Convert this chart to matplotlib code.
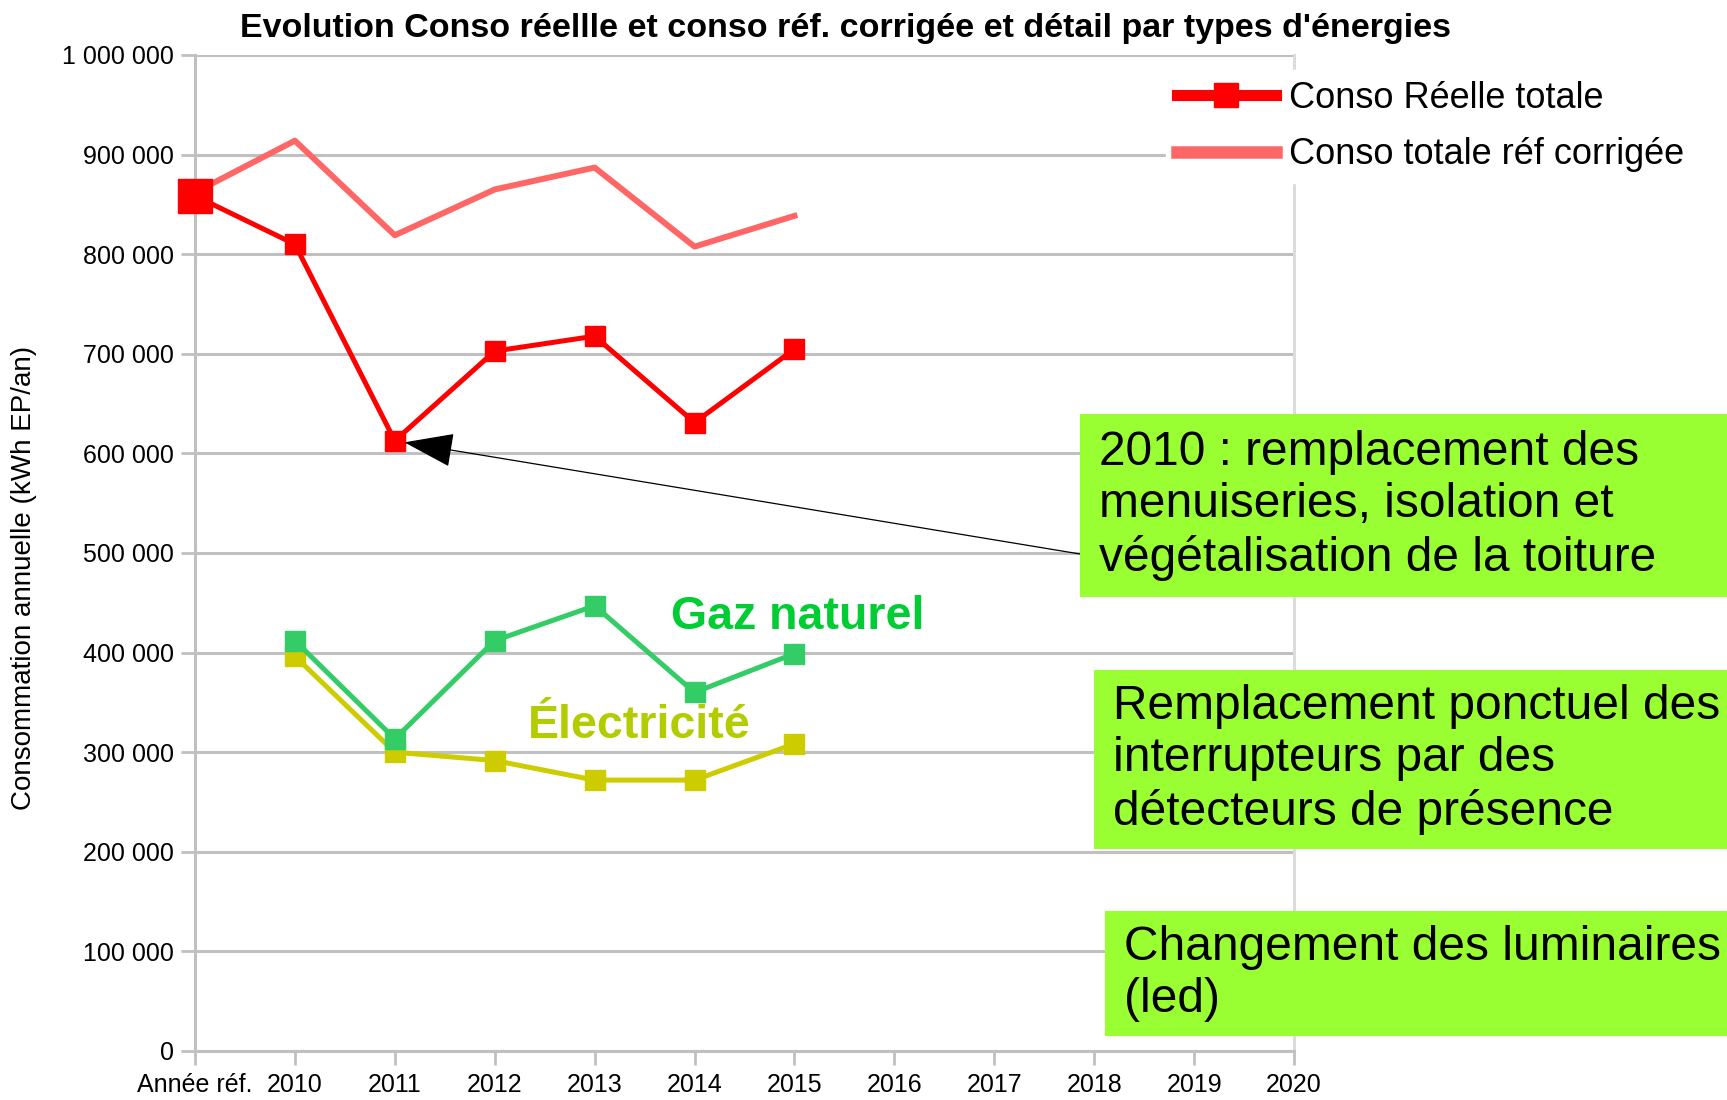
import matplotlib
matplotlib.use('Agg')
import matplotlib.pyplot as plt
from matplotlib.lines import Line2D
from matplotlib.patches import Rectangle

plt.rcParams['font.family'] = ['Liberation Sans', 'DejaVu Sans']

# categories on the x axis
categories = ["Année réf.", "2010", "2011", "2012", "2013", "2014", "2015",
              "2016", "2017", "2018", "2019", "2020"]

# series (kWh EP/an)
x_total = [0, 1, 2, 3, 4, 5, 6]
conso_reelle = [858600, 810000, 612700, 702700, 717700, 631000, 704700]
ref_corrigee = [862000, 914000, 819000, 865000, 887000, 807600, 838500]

x_energies = [1, 2, 3, 4, 5, 6]
gaz_naturel = [412000, 313400, 412000, 447000, 360000, 399000]
electricite = [396300, 300000, 291600, 272000, 272000, 308400]

notes = [
    "2010 : remplacement des\nmenuiseries, isolation et\nvégétalisation de la toiture",
    "Remplacement ponctuel des\ninterrupteurs par des\ndétecteurs de présence",
    "Changement des luminaires\n(led)",
]

W, H = 1727, 1100
fig = plt.figure(figsize=(W / 100, H / 100), dpi=100)
ax = fig.add_axes([195 / W, 1 - 1051 / H, (1294 - 195) / W, (1051 - 55) / H])

grid_c = '#c0c0c0'
ax.set_xlim(0, 11)
ax.set_ylim(0, 1000000)
ax.set_yticks(range(0, 1000001, 100000))
ax.set_yticklabels([f"{v:,}".replace(",", " ") for v in range(0, 1000001, 100000)])
ax.set_xticks(range(len(categories)))
ax.set_xticklabels(categories)
ax.yaxis.grid(True, color=grid_c, lw=2.2)
ax.set_axisbelow(True)
ax.tick_params(axis='both', labelsize=18, colors=grid_c, labelcolor='black',
               length=10, width=2)
ax.tick_params(axis='y', pad=5)
ax.tick_params(axis='x', pad=6)
for s in ['left', 'bottom']:
    ax.spines[s].set_color(grid_c)
    ax.spines[s].set_linewidth(2.2)
ax.spines['top'].set_visible(False)
ax.spines['right'].set_color('#dcdcdc')
ax.spines['right'].set_linewidth(2.2)

# lines
ax.plot(x_total, ref_corrigee, color='#ff6666', lw=4.3, zorder=3)
ax.plot(x_energies, electricite, color='#cccc00', lw=3.6, marker='s', ms=14, zorder=4)
ax.plot(x_energies, gaz_naturel, color='#33cc66', lw=3.6, marker='s', ms=14, zorder=5)
ax.plot(x_total, conso_reelle, color='#ff0000', lw=3.6, marker='s', ms=15,
        markevery=list(range(1, len(x_total))), zorder=6)
ax.plot(x_total[0], conso_reelle[0], color='#ff0000', marker='s', ms=25, zorder=7,
        clip_on=False)

ax.text(6.03, 436000, "Gaz naturel", color='#00cc33', fontsize=33.5, fontweight='bold',
        ha='center', va='center', zorder=8)
ax.text(4.45, 326000, "Électricité", color='#b3cc00', fontsize=33.5, fontweight='bold',
        ha='center', va='center', zorder=8)

# legend
handles = [Line2D([], [], color='#ff0000', lw=8, marker='s', ms=17),
           Line2D([], [], color='#ff6666', lw=9)]
leg = fig.legend(handles, ["Conso Réelle totale", "Conso totale réf corrigée"],
                 loc='upper left', bbox_to_anchor=(1166 / W, 1 - 70 / H),
                 fontsize=26, frameon=True, fancybox=False, framealpha=1,
                 edgecolor='white', handlelength=2.75, handletextpad=0.35,
                 labelspacing=0.6, borderpad=0.3, borderaxespad=0)

fig.text(24 / W, 1 - 578 / H, "Consommation annuelle (kWh EP/an)", rotation=90,
         fontsize=20, ha='center', va='center')
fig.text(846 / W, 1 - 28 / H,
         "Evolution Conso réellle et conso réf. corrigée et détail par types d'énergies",
         fontsize=24.5, fontweight='bold', ha='center', va='center')

# annotation boxes
boxes = [(1080, 414, 597, 1099), (1094, 670, 849, 1113), (1105, 911, 1036, 1124)]
for (x0, y0, y1, tx), note in zip(boxes, notes):
    fig.patches.append(Rectangle((x0 / W, 1 - y1 / H), (W - x0) / W, (y1 - y0) / H,
                                 transform=fig.transFigure, facecolor='#99ff33',
                                 edgecolor='none', zorder=10))
    fig.text(tx / W, 1 - (y0 + y1) / 2 / H, note, fontsize=34.5, ha='left', va='center',
             linespacing=1.22, zorder=11)

ax.annotate("", xy=(2, conso_reelle[2]), xytext=(1080, H - 554),
            textcoords='figure pixels',
            arrowprops=dict(arrowstyle='-|>,head_length=1.6,head_width=0.55',
                            color='black', lw=0.9, shrinkA=0, shrinkB=7,
                            mutation_scale=20),
            zorder=9, annotation_clip=False)

fig.savefig('out.png', dpi=100)
